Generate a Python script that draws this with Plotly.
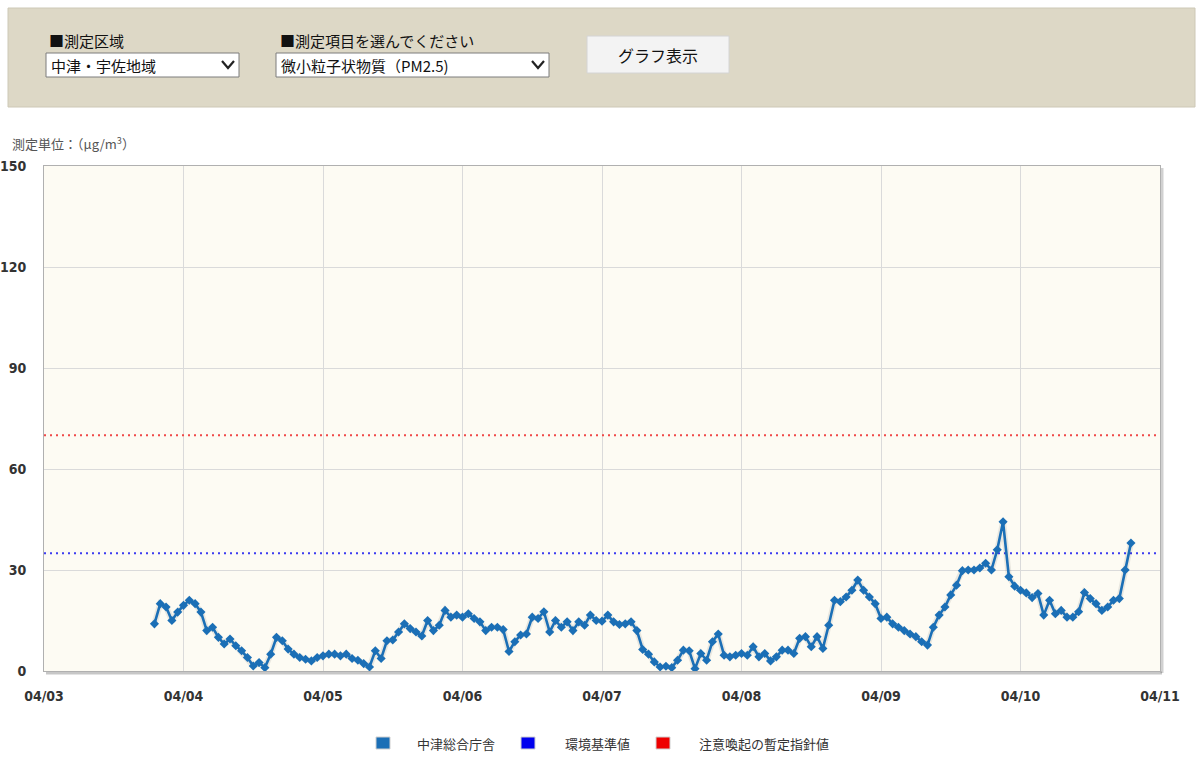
import plotly.graph_objects as go
import pandas as pd

# ---------------- data ----------------
series_name = "中津総合庁舎"
start_time = "2023-04-03 19:00"
pm25 = [
    14, 20, 19, 15, 17.5, 19.5, 21, 20, 17.5, 12,
    13, 10, 8, 9.5, 7.5, 6, 4, 1.5, 2.5, 1,
    5, 10, 9, 6.5, 5, 4, 3.5, 3, 4, 4.5,
    5, 5, 4.5,
    5, 3.7, 3.2, 2.2, 1.2, 6, 3.7, 9, 9.2, 11.6,
    14, 12.6, 11.6, 10.4, 15, 12, 13.6, 18, 16, 16.6,
    16, 17, 15.6, 14.6, 12, 13, 13, 12.3, 5.8, 8.7,
    10.7,
    11, 16, 15.6, 17.6, 11.6, 15, 13, 14.6, 12, 14.6,
    13.6, 16.6, 15, 14.8, 16.6, 14.6, 13.8, 14, 14.6, 12,
    6.4, 5, 2.7, 1.2, 1.4, 1, 3.2, 6.2, 6, 0.7,
    5.2, 3.2, 8.7, 11,
    4.7, 4.2, 4.7, 5.2, 4.7, 7.2, 4.2, 5.2, 3, 4.2,
    6.2, 6.2, 5.2, 9.7, 10.2, 7.2, 10.2, 6.7, 13.6, 21,
    20.6, 22, 24, 27, 24, 22, 20, 15.6, 16, 14,
    13, 12,
    11, 10.2, 8.7, 7.7, 13, 16.6, 19, 22.6, 25.5, 29.8,
    30, 30, 30.6, 32, 30, 36, 44.3, 28, 25.2, 24,
    23.2, 21.8, 23, 16.6, 21, 17, 18, 16, 16, 17.6,
    23.3, 21.5, 20, 18, 19, 21, 21.5, 30, 38,
]
standard_name = "環境基準値"
standard_value = 35
advisory_name = "注意喚起の暫定指針値"
advisory_value = 70
x_range = ["2023-04-03", "2023-04-11"]
day_ticks = pd.date_range("2023-04-03", "2023-04-11", freq="D")
day_labels = [d.strftime("%m/%d") for d in day_ticks]
y_ticks = [0, 30, 60, 90, 120, 150]
y_range = [0, 150]

area_label = "■測定区域"
area_choice = "中津・宇佐地域"
item_label = "■測定項目を選んでください"
item_choice = "微小粒子状物質（PM2.5)"
button_label = "グラフ表示"
unit_label = "測定単位：（μg/m<sup>3</sup>）"

# ---------------- styles ----------------
C_SERIES = "#1b6fb6"
C_STD = "#3c3cf0"
C_ADV = "#f04848"
LEG_COLORS = ["#1b6fb6", "#0000ee", "#ee0000"]
CJK = "Noto Sans CJK JP, sans-serif"
NUM = "DejaVu Sans Condensed, Liberation Sans Narrow, Arial Narrow, sans-serif"

W, H = 1196, 763
L, R, T, B = 44, 1160, 166, 671


def px(x):
    return (x - L) / (R - L)


def py(y):
    return (B - y) / (B - T)


times = pd.date_range(start_time, periods=len(pm25), freq="h")

fig = go.Figure()
fig.add_trace(go.Scatter(
    x=x_range, y=[standard_value] * 2, mode="lines", name=standard_name,
    line=dict(color=C_STD, width=2, dash="2px,4px"), showlegend=False,
    hoverinfo="skip"))
fig.add_trace(go.Scatter(
    x=x_range, y=[advisory_value] * 2, mode="lines", name=advisory_name,
    line=dict(color=C_ADV, width=2, dash="2px,4px"), showlegend=False,
    hoverinfo="skip"))
# soft halo under the series (like the original line shadow)
fig.add_trace(go.Scatter(
    x=times, y=pm25, mode="lines", name=series_name,
    line=dict(color="rgba(0,0,0,0.08)", width=6),
    showlegend=False, hoverinfo="skip"))
fig.add_trace(go.Scatter(
    x=times, y=pm25, mode="lines+markers", name=series_name,
    line=dict(color=C_SERIES, width=2.6),
    marker=dict(symbol="diamond", size=7, color=C_SERIES),
    showlegend=False))

shapes = []
annotations = []

# top control panel
shapes.append(dict(type="rect", xref="paper", yref="paper",
                   x0=px(8), x1=px(1195), y0=py(8), y1=py(107),
                   fillcolor="#ddd8c6", line=dict(color="#cdc8b6", width=1),
                   layer="above"))
# dropdown boxes
for (x0, x1) in [(46, 239), (276, 549)]:
    shapes.append(dict(type="rect", xref="paper", yref="paper",
                       x0=px(x0), x1=px(x1), y0=py(53), y1=py(77),
                       fillcolor="white", line=dict(color="#7d7d7d", width=1),
                       layer="above"))
    cx = x1 - 11
    shapes.append(dict(type="path", xref="paper", yref="paper",
                       path=f"M {px(cx-6)},{py(61)} L {px(cx)},{py(68)} L {px(cx+6)},{py(61)}",
                       line=dict(color="#222", width=2.2), layer="above"))
# button
shapes.append(dict(type="rect", xref="paper", yref="paper",
                   x0=px(587), x1=px(729), y0=py(36), y1=py(73),
                   fillcolor="#f3f3f3", line=dict(color="#d4d4d4", width=1),
                   layer="above"))

annotations += [
    dict(text=area_label, x=px(47), y=py(40), font=dict(size=15, color="#111", family=CJK)),
    dict(text=area_choice, x=px(49), y=py(65), font=dict(size=15, color="#111", family=CJK)),
    dict(text=item_label, x=px(278), y=py(40), font=dict(size=15, color="#111", family=CJK)),
    dict(text=item_choice, x=px(279), y=py(65), font=dict(size=15, color="#111", family=CJK)),
    dict(text=unit_label, x=px(10), y=py(143), font=dict(size=13, color="#555", family=CJK)),
]
annotations.append(dict(text=button_label, x=px(658), y=py(55), xanchor="center",
                        font=dict(size=16, color="#111", family=CJK)))

# plot shadow (bottom and right)
shapes.append(dict(type="line", xref="paper", yref="paper",
                   x0=px(L + 2), x1=px(R + 2), y0=py(B + 2), y1=py(B + 2),
                   line=dict(color="rgba(0,0,0,0.22)", width=3), layer="below"))
shapes.append(dict(type="line", xref="paper", yref="paper",
                   x0=px(R + 2), x1=px(R + 2), y0=py(T + 2), y1=py(B + 2),
                   line=dict(color="rgba(0,0,0,0.18)", width=3), layer="below"))

# legend
legend_items = [series_name, standard_name, advisory_name]
legend_sq = [383, 528, 663]
legend_tx = [415, 563, 697]
for name, col, sx, tx in zip(legend_items, LEG_COLORS, legend_sq, legend_tx):
    shapes.append(dict(type="rect", xref="paper", yref="paper",
                       x0=px(sx - 7), x1=px(sx + 7), y0=py(737), y1=py(749),
                       fillcolor=col, line=dict(color="#d0d0d0", width=1)))
    annotations.append(dict(text=name, x=px(tx), y=py(743),
                            font=dict(size=13, color="#333", family=CJK)))

for a in annotations:
    a.setdefault("xref", "paper")
    a.setdefault("yref", "paper")
    a.setdefault("xanchor", "left")
    a.setdefault("yanchor", "middle")
    a.setdefault("showarrow", False)

fig.update_layout(
    width=W, height=H,
    margin=dict(l=L, r=W - R, t=T, b=H - B, pad=0, autoexpand=False),
    paper_bgcolor="white",
    plot_bgcolor="#fdfbf3",
    shapes=shapes,
    annotations=annotations,
    showlegend=False,
    xaxis=dict(type="date", range=x_range, tickvals=day_ticks, ticktext=day_labels,
               automargin=False,
               showgrid=True, gridcolor="#dadada", gridwidth=1,
               showline=True, linecolor="#b0b0b0", linewidth=1, mirror=True,
               ticks="", ticklabelstandoff=12, zeroline=False,
               tickfont=dict(family=NUM, size=14, color="#333", weight="bold")),
    yaxis=dict(range=y_range, tickvals=y_ticks, automargin=False,
               showgrid=True, gridcolor="#dadada", gridwidth=1,
               showline=True, linecolor="#b0b0b0", linewidth=1, mirror=True,
               ticks="", ticklabelstandoff=14, zeroline=False,
               tickfont=dict(family=NUM, size=14, color="#333", weight="bold")),
)

fig.write_html("out.html", config={"displayModeBar": False},
               post_script="document.body.style.margin='0';")
